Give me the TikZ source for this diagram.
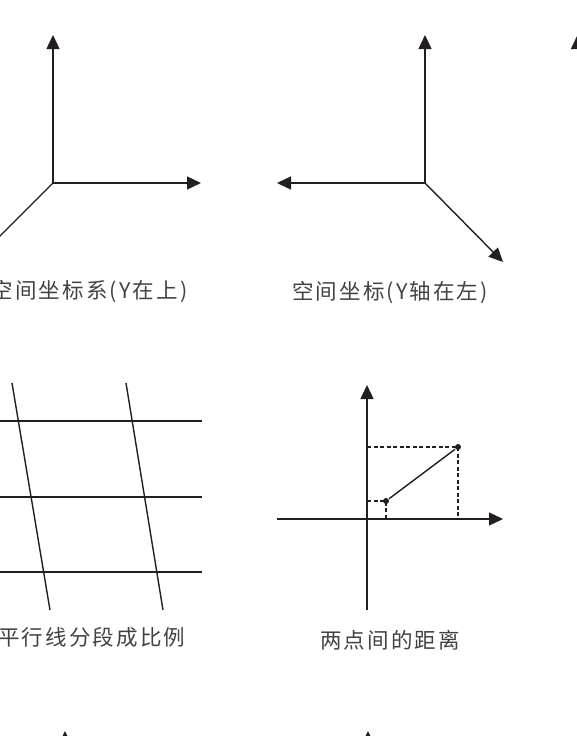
\documentclass[tikz,border=0pt]{standalone}
\usepackage{fontspec}
\newfontfamily\cjk{Noto Sans CJK SC}[LetterSpace=10]
\usetikzlibrary{arrows.meta,positioning}
\definecolor{ink}{RGB}{35,31,32}

\begin{document}
\begin{tikzpicture}[x=1pt,y=-1pt,>={Triangle[length=14pt,width=13pt]},
		line width=1.4pt,draw=ink,
		axis/.style={->},
		caption/.style={font=\cjk\fontsize{21.5}{21.5}\selectfont,text=ink!85,inner sep=0pt},
		guide/.style={dash pattern=on 4pt off 2.5pt,line width=1.3pt},
		dot/.style={circle,fill=ink,inner sep=0pt,minimum size=6pt}]

		\useasboundingbox (0,0) rectangle (576,736);

		% Y up
		\coordinate (O1) at (53,183);
		\coordinate (Y1) at (53,35);
		\coordinate (X1) at (201,183);
		\coordinate (Z1) at (-30,266);
		\draw[axis] (O1) -- (Y1);
		\draw[axis] (O1) -- (X1);
		\draw (O1) -- (Z1);
		\node[caption,anchor=east] (T1) at (188,292) {空间坐标系(Y在上)};

		% Y left
		\coordinate (O2) at (425,183);
		\coordinate (Y2) at (425,35);
		\coordinate (X2) at (277,183);
		\coordinate (Z2) at (503,262);
		\draw[axis] (O2) -- (Y2);
		\draw[axis] (O2) -- (X2);
		\draw[axis] (O2) -- (Z2);
		\node[caption] (T2) at (390,293) {空间坐标(Y轴在左)};

		% next one, cut off
		\coordinate (O3) at (577.5,120);
		\coordinate (Y3) at (577.5,35);
		\draw[axis] (O3) -- (Y3);

		% parallels
		\foreach \y [count=\i] in {421,497,572}{
			\coordinate (L\i) at (-10,\y);
			\coordinate (R\i) at (202,\y);
			\draw (L\i) -- (R\i);
		}
		\coordinate (P1) at (12,383);
		\coordinate (Q1) at (50,610);
		\coordinate (P2) at (126,383);
		\coordinate (Q2) at (163,610);
		\draw (P1) -- (Q1);
		\draw (P2) -- (Q2);
		\node[caption,anchor=east] (T3) at (186,637) {平行线分段成比例};

		% distance
		\coordinate (O4) at (367,519);
		\coordinate (Y4) at (367,385);
		\coordinate (Y4b) at (367,610);
		\coordinate (X4) at (503,519);
		\coordinate (X4b) at (277,519);
		\draw[axis] (Y4b) -- (Y4);
		\draw[axis] (X4b) -- (X4);
		\node[dot] (A) at (386,501) {};
		\node[dot] (B) at (458,447) {};
		\draw[guide] (A.center -| O4) -- (A.center) -- (A.center |- O4);
		\draw[guide] (B.center -| O4) -- (B.center) -- (B.center |- O4);
		\draw (A) -- (B);
		\node[caption] (T4) at (390,640) {两点间的距离};

		% row below, cut off
		\coordinate (O5) at (65,770);
		\coordinate (Y5) at (65,731);
		\coordinate (O6) at (368,770);
		\coordinate (Y6) at (368,731);
		\draw[axis] (O5) -- (Y5);
		\draw[axis] (O6) -- (Y6);
	\end{tikzpicture}
\end{document}
